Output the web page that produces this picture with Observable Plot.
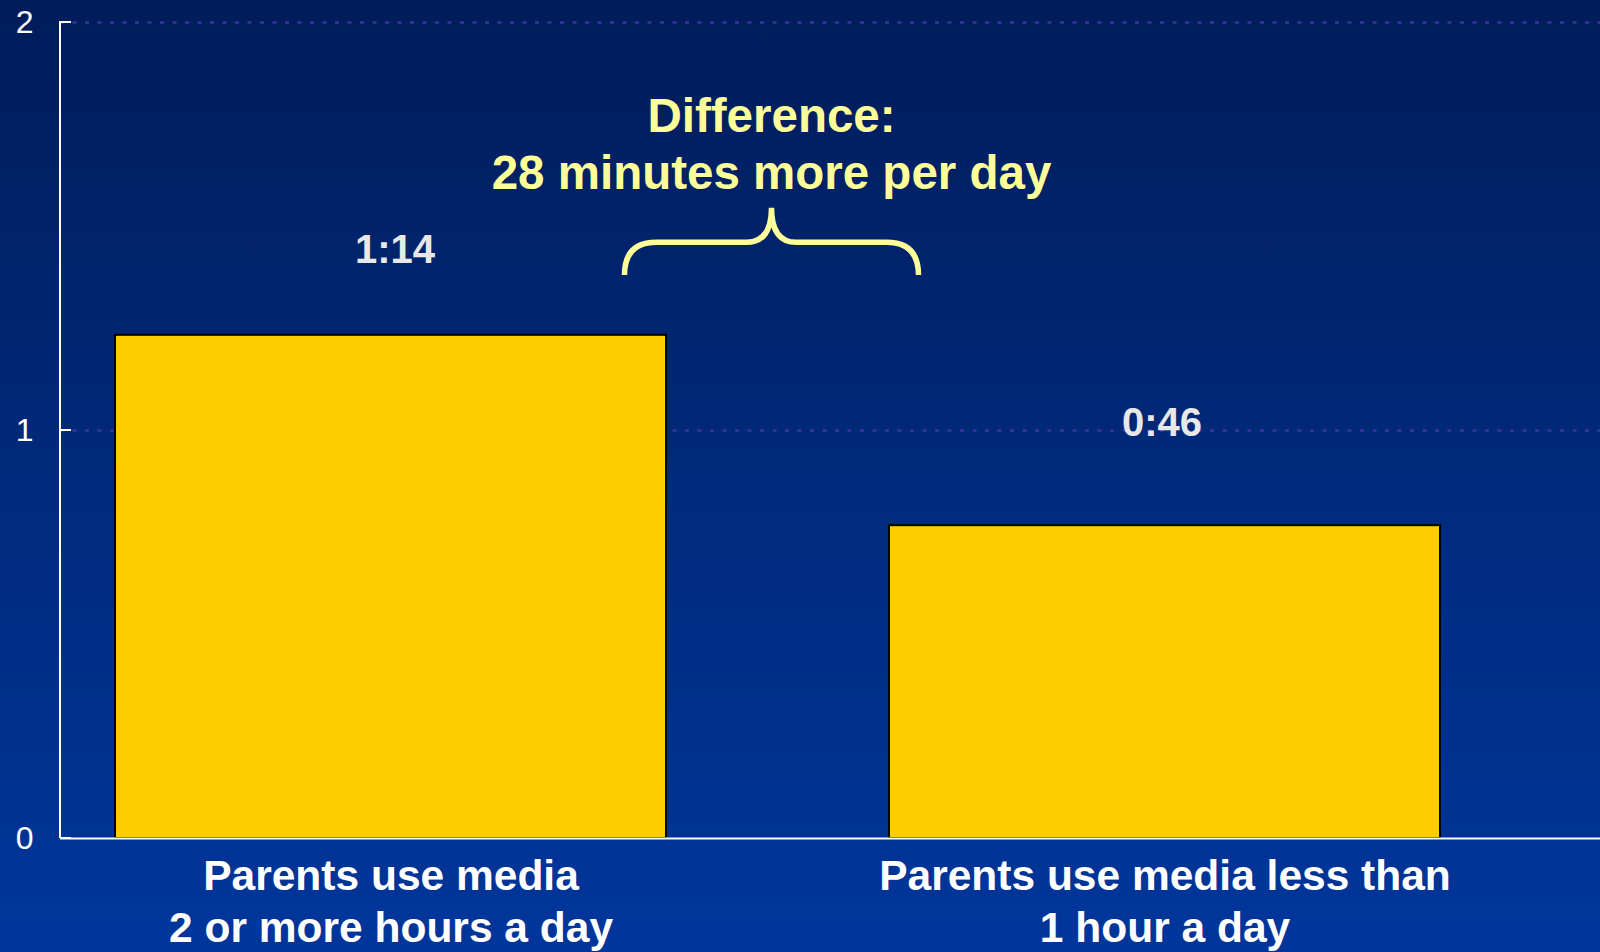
<!DOCTYPE html>
<html>
<head>
<meta charset="utf-8">
<script src="https://cdn.jsdelivr.net/npm/d3@7"></script>
<script src="https://cdn.jsdelivr.net/npm/@observablehq/plot@0.6"></script>
<style>
  html, body { margin: 0; padding: 0; }
  body {
    width: 1600px; height: 952px; overflow: hidden;
    background: linear-gradient(to bottom, #001c5a 0%, #002a7b 50%, #00369c 100%);
    font-family: "Liberation Sans", Arial, sans-serif;
  }
  #chart svg { display: block; }
</style>
</head>
<body>
<div id="chart"></div>
<script>
// ---- data ----
const categories = ["Parents use media\n2 or more hours a day", "Parents use media less than\n1 hour a day"];
const hours = [1.2333, 0.7667];              // 1:14 and 0:46 (h)
const valueLabels = ["1:14", "0:46"];
const yTicks = [0, 1, 2];
const noteLines = ["Difference:", "28 minutes more per day"];
const noteLevels = [1.73, 1.59];             // baseline of each note line, in hours
const braceLevels = [1.545, 1.46, 1.38];     // tip, horizontal, ends, in hours

const rows = categories.map((c, i) => ({category: c, hours: hours[i], label: valueLabels[i]}));

const FONT = "'Liberation Sans', Arial, sans-serif";

function annotation(index, scales, values, dimensions) {
  const x = scales.x, y = scales.y;
  const g = d3.create("svg:g");
  const left = dimensions.marginLeft;
  // y axis line + inward ticks
  g.append("line")
    .attr("x1", left).attr("x2", left)
    .attr("y1", y(d3.max(yTicks)) - 1).attr("y2", y(0))
    .attr("stroke", "white").attr("stroke-width", 2);
  for (const t of yTicks) {
    g.append("line")
      .attr("x1", left).attr("x2", left + 11)
      .attr("y1", y(t)).attr("y2", y(t))
      .attr("stroke", "white").attr("stroke-width", 2);
  }
  // brace between the bars
  const cx = (x(categories[0]) + x.bandwidth() + x(categories[1])) / 2 - 6;
  const [yt, yh, ye] = braceLevels.map(y);
  const hw = 147, r = 32, tw = 25;
  const p = d3.path();
  p.moveTo(cx - hw, ye);
  p.quadraticCurveTo(cx - hw, yh, cx - hw + r, yh);
  p.lineTo(cx - tw, yh);
  p.quadraticCurveTo(cx, yh, cx, yt);
  p.quadraticCurveTo(cx, yh, cx + tw, yh);
  p.lineTo(cx + hw - r, yh);
  p.quadraticCurveTo(cx + hw, yh, cx + hw, ye);
  g.append("path").attr("d", p.toString())
    .attr("fill", "none").attr("stroke", "#ffff99")
    .attr("stroke-width", 5.5).attr("stroke-linecap", "butt");
  // note text
  noteLines.forEach((t, i) => {
    g.append("text").attr("x", cx).attr("y", y(noteLevels[i]))
      .attr("text-anchor", "middle")
      .attr("font-family", FONT).attr("font-weight", "bold").attr("font-size", 47.5)
      .attr("fill", "#ffff99").text(t);
  });
  return g.node();
}

const chart = Plot.plot({
  width: 1600,
  height: 952,
  marginLeft: 60,
  marginRight: 0,
  marginTop: 22,
  marginBottom: 114,
  style: {background: "transparent", color: "white", fontFamily: FONT},
  x: {domain: categories, range: [60, 1495], paddingInner: 0.288, paddingOuter: 0.071, label: null},
  y: {domain: [0, 2], label: null},
  marks: [
    Plot.gridY([1, 2], {stroke: "#3c32a0", strokeOpacity: 1, strokeWidth: 2.5, strokeDasharray: "4 8.5"}),
    Plot.barY(rows, {x: "category", y: "hours", fill: "#ffcc00", stroke: "#000", strokeWidth: 2}),
    Plot.ruleY([0], {stroke: "white", strokeWidth: 2}),
    Plot.text([rows[0]], {x: "category", y: "hours", text: "label", dy: -85, dx: 4, fill: "#e8e8e8", fontSize: 40, fontWeight: "bold"}),
    Plot.text([rows[1]], {x: "category", y: "hours", text: "label", dy: -102, dx: -3, fill: "#e8e8e8", fontSize: 40, fontWeight: "bold"}),
    Plot.axisY(yTicks, {tickSize: 0, tickPadding: 27, fontSize: 32, fill: "white", tickFormat: d3.format("d")}),
    Plot.axisX({tickSize: 0, tickPadding: 15, fontSize: 42.5, fontWeight: "bold", lineHeight: 1.22, fill: "white"}),
    annotation
  ]
});

document.getElementById("chart").appendChild(chart);
</script>
</body>
</html>
